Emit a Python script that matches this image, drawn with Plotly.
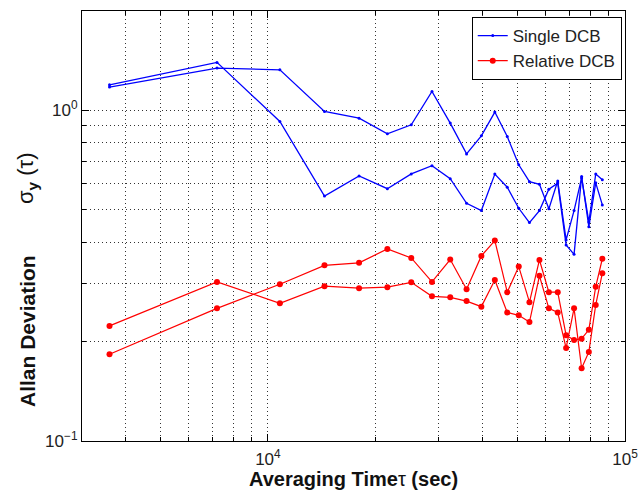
import plotly.graph_objects as go
import numpy as np

# Averaging times (sec): hourly steps
tau = [3600 * n for n in range(1, 25)]

single_a = [1.196, 1.398, 0.926, 0.551, 0.634, 0.580, 0.643, 0.681, 0.622, 0.524, 0.498, 0.642,
            0.586, 0.506, 0.458, 0.498, 0.578, 0.603, 0.392, 0.367, 0.631, 0.445, 0.604, 0.518]
single_b = [1.177, 1.344, 1.328, 0.993, 0.948, 0.850, 0.905, 1.142, 0.916, 0.739, 0.838, 0.989,
            0.834, 0.685, 0.609, 0.598, 0.504, 0.612, 0.406, 0.498, 0.625, 0.460, 0.642, 0.617]
relative_a = [0.223, 0.303, 0.261, 0.294, 0.290, 0.292, 0.302, 0.274, 0.272, 0.265, 0.255, 0.307,
              0.245, 0.240, 0.229, 0.316, 0.252, 0.245, 0.191, 0.252, 0.166, 0.186, 0.258, 0.322]
relative_b = [0.183, 0.252, 0.298, 0.340, 0.346, 0.381, 0.358, 0.303, 0.354, 0.288, 0.363, 0.404,
              0.282, 0.337, 0.263, 0.353, 0.282, 0.282, 0.209, 0.202, 0.204, 0.217, 0.293, 0.356]

x_major = [1e4, 1e5]
x_major_text = ["10<sup>4</sup>", "10<sup>5</sup>"]
y_major = [0.1, 1.0]
y_major_text = ["10<sup>−1</sup>", "10<sup>0</sup>"]

x_minor = [m * 10 ** e for e in (3, 4) for m in range(2, 10) if 3000 <= m * 10 ** e < 1e5]
y_minor = [m * 0.1 for m in range(2, 10)] + [2.0]

FONT = "Liberation Sans, Arial, Helvetica, sans-serif"
BLUE = "#0000ff"
RED = "#ff0000"

W, H = 639, 490
ML, MR, MT, MB = 82, 14, 11, 49
PW = W - ML - MR
PH = H - MT - MB


def py(pixel_y):
    """paper y from a pixel row"""
    return (H - MB - pixel_y) / PH


fig = go.Figure()
fig.add_trace(go.Scatter(x=tau, y=single_a, mode="lines+markers", name="Single DCB",
                         line=dict(color=BLUE, width=1.3), marker=dict(color=BLUE, size=3),
                         legendgroup="s"))
fig.add_trace(go.Scatter(x=tau, y=single_b, mode="lines+markers", name="Single DCB",
                         line=dict(color=BLUE, width=1.3), marker=dict(color=BLUE, size=3),
                         legendgroup="s", showlegend=False))
fig.add_trace(go.Scatter(x=tau, y=relative_a, mode="lines+markers", name="Relative DCB",
                         line=dict(color=RED, width=1.2), marker=dict(color=RED, size=6),
                         legendgroup="r"))
fig.add_trace(go.Scatter(x=tau, y=relative_b, mode="lines+markers", name="Relative DCB",
                         line=dict(color=RED, width=1.2), marker=dict(color=RED, size=6),
                         legendgroup="r", showlegend=False))

grid = dict(showgrid=True, gridcolor="#333333", griddash="1px,3px", gridwidth=1)

fig.update_xaxes(
    type="log", range=[np.log10(3015), 5], automargin=False,
    tickmode="array", tickvals=x_major, ticktext=x_major_text,
    ticks="inside", ticklen=7, tickcolor="black", tickwidth=1, ticklabelstandoff=3,
    showline=True, linecolor="black", linewidth=1, mirror="allticks",
    tickfont=dict(family=FONT, size=17, color="#222"),
    zeroline=False, **grid,
    minor=dict(tickmode="array", tickvals=x_minor, ticks="inside", ticklen=4,
               tickcolor="black", **grid),
    title=dict(text="<b>Averaging Time</b>τ<b> (sec)</b>", font=dict(family=FONT, size=20, color="#111"),
               standoff=1),
)
fig.update_yaxes(
    type="log", range=[-1, np.log10(2.0)], automargin=False,
    tickmode="array", tickvals=y_major, ticktext=y_major_text,
    ticks="inside", ticklen=7, tickcolor="black", tickwidth=1,
    showline=True, linecolor="black", linewidth=1, mirror="allticks",
    tickfont=dict(family=FONT, size=17, color="#222"),
    zeroline=False, **grid,
    minor=dict(tickmode="array", tickvals=y_minor, ticks="inside", ticklen=4,
               tickcolor="black", **grid),
)

# y-axis label drawn as two rotated annotations (MATLAB-style spacing)
label_x = (27 - ML) / PW
fig.add_annotation(text="<b>Allan Deviation</b>", textangle=-90, showarrow=False,
                   xref="paper", yref="paper", x=label_x, xanchor="center",
                   y=py(409), yanchor="bottom",
                   font=dict(family=FONT, size=21, color="#111"))
fig.add_annotation(text="σ<sub><b>y</b></sub>\u00a0(τ)", textangle=-90, showarrow=False,
                   xref="paper", yref="paper", x=label_x, xanchor="center",
                   y=py(150), yanchor="top",
                   font=dict(family=FONT, size=22, color="#111"))

fig.update_layout(
    width=W, height=H,
    margin=dict(l=ML, r=MR, t=MT, b=MB),
    paper_bgcolor="white", plot_bgcolor="white",
    font=dict(family=FONT, color="#111"),
    legend=dict(x=0.994, y=0.986, xanchor="right", yanchor="top",
                bgcolor="white", bordercolor="black", borderwidth=1,
                font=dict(family=FONT, size=17, color="#222"),
                tracegroupgap=0, itemwidth=30),
)

fig.write_html("out.html")
